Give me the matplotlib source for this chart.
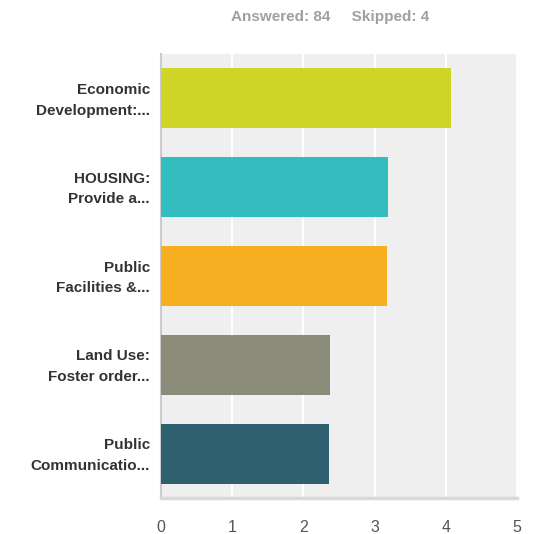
import matplotlib.pyplot as plt
from matplotlib.transforms import ScaledTranslation

# answers, top to bottom as shown
labels = ["Economic\nDevelopment:...", "HOUSING:\nProvide a...", "Public\nFacilities &...",
          "Land Use:\nFoster order...", "Public\nCommunicatio..."]
values = [4.08, 3.19, 3.17, 2.37, 2.36]
colors = ["#cfd628", "#34bdbf", "#f7ae20", "#8a8b79", "#2f6070"]
answered = 84
skipped = 4

plt.rcParams['font.family'] = ['Liberation Sans', 'DejaVu Sans']

fig = plt.figure(figsize=(5.33, 5.34), dpi=100)
ax = fig.add_axes([161 / 533, 36 / 534, 356 / 533, 444 / 534])

ypos = list(range(len(labels)))
ax.barh(ypos, values, height=0.675, color=colors, zorder=3)
ax.set_ylim(len(labels) - 0.5, -0.5)
ax.set_xlim(0, 5)
ax.set_xticks(range(6))
ax.set_yticks(ypos)
ax.set_yticklabels(labels, fontsize=11, fontweight='bold', color='#333333', linespacing=1.6)

ax.set_facecolor('#efefef')
ax.grid(axis='x', color='white', linewidth=1.5, zorder=1)
for s in ['top', 'right']:
    ax.spines[s].set_visible(False)
ax.spines['left'].set_color('#cccccc')
ax.spines['left'].set_linewidth(1.5)
ax.spines['bottom'].set_color('#d9d9d9')
ax.spines['bottom'].set_linewidth(2.5)
ax.tick_params(axis='x', length=0, pad=16, labelsize=11.5, labelcolor='#555555')
ax.tick_params(axis='y', length=0, pad=8)

# nudge the category labels up a little
shift = ScaledTranslation(0, 3 / 100, fig.dpi_scale_trans)
for t in ax.get_yticklabels():
    t.set_transform(t.get_transform() + shift)

fig.text(0.62, 0.968, f"Answered: {answered}     Skipped: {skipped}", ha='center', va='center',
         fontsize=11, fontweight='bold', color='#a0a0a0')

fig.savefig('out.png', dpi=100)
